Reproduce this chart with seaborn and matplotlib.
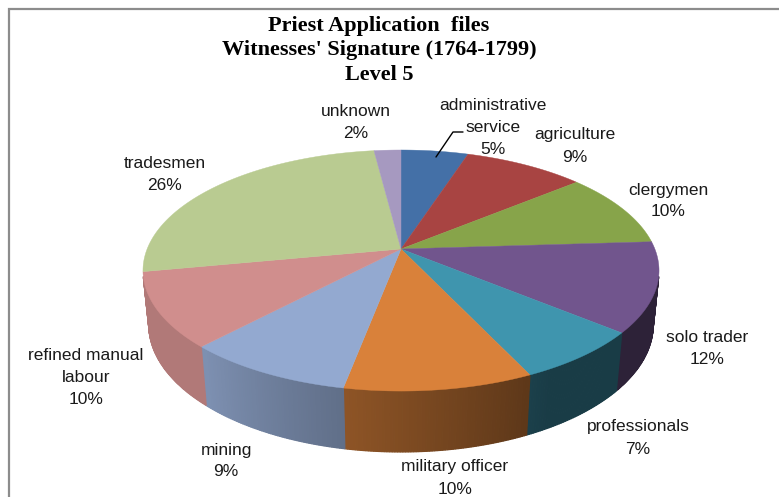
import numpy as np
import matplotlib.pyplot as plt
import seaborn as sns

# chart data
categories = ["administrative\nservice", "agriculture", "clergymen", "solo trader", "professionals",
              "military officer", "mining", "refined manual\nlabour", "tradesmen", "unknown"]
shares = [5, 9, 10, 12, 7, 10, 9, 10, 26, 2]
colors = ["#4470A7", "#A84442", "#87A44A", "#71558D", "#3F95AE",
          "#D9813A", "#93A9D0", "#D08E8D", "#B9CB91", "#A699C0"]
title = "Priest Application  files\nWitnesses' Signature (1764-1799)\nLevel 5"

# label placement (pixel coords, as laid out in the original)
label_xy = [(493, 127), (575, 146), (668, 201), (707, 348), (638, 438),
            (455, 478), (226, 461), (86, 377), (165, 174), (356, 122)]
LINE_H = 22

sns.set_theme(style="white")
label_font = ["Liberation Sans Narrow", "Liberation Sans", "DejaVu Sans"]
title_font = ["Liberation Serif", "DejaVu Serif"]

# perspective view of the disc
CX, CY = 401, 249
F, DIST, ELEV = 1262.5, 4.973, np.radians(27.36)
THICK = 0.242


def project(theta, y=0.0, r=1.0):
    x = r * np.sin(theta)
    z = r * np.cos(theta)
    depth = DIST + z * np.cos(ELEV) - y * np.sin(ELEV)
    sx = F * x / depth
    sy = F * (y * np.cos(ELEV) + z * np.sin(ELEV)) / depth
    return CX + sx, CY - sy


def shade(hex_color, k):
    rgb = np.array(sns.color_palette([hex_color])[0])
    return tuple(np.clip(rgb * k, 0, 1))


fig = plt.figure(figsize=(7.79, 4.97), dpi=100)
ax = fig.add_axes([0, 0, 1, 1])
ax.set_xlim(0, 779)
ax.set_ylim(497, 0)
ax.axis("off")

bounds = np.concatenate([[0], np.cumsum(shares)]) / sum(shares) * 2 * np.pi
vis_lo = np.arccos(-1 / (DIST * np.cos(ELEV)))
vis_hi = 2 * np.pi - vis_lo

# side walls (front half only), darker towards the right
for i, col in enumerate(colors):
    a0, a1 = max(bounds[i], vis_lo), min(bounds[i + 1], vis_hi)
    if a1 <= a0:
        continue
    ts = np.linspace(a0, a1, max(3, int(np.degrees(a1 - a0) * 2)))
    for t0, t1 in zip(ts[:-1], ts[1:]):
        mid = np.degrees((t0 + t1) / 2)
        k = 0.40 + 0.45 * np.clip((mid - 150) / 72, 0, 1)
        c = shade(col, k)
        tx0, ty0 = project(t0)
        tx1, ty1 = project(t1)
        bx1, by1 = project(t1, -THICK)
        bx0, by0 = project(t0, -THICK)
        ax.fill([tx0, tx1, bx1, bx0], [ty0, ty1, by1, by0], color=c, lw=0.9, ec=c)

# top faces
for i, col in enumerate(colors):
    ts = np.linspace(bounds[i], bounds[i + 1], 120)
    px, py = project(ts)
    ax.fill(np.concatenate([[CX], px]), np.concatenate([[CY], py]), color=col, lw=0.3, ec=col)

# data labels, one text per line so the lines sit 22px apart
for cat, val, (lx, ly) in zip(categories, shares, label_xy):
    lines = cat.split("\n") + [f"{val}%"]
    y0 = ly - (len(lines) - 1) / 2 * LINE_H
    for k, line in enumerate(lines):
        ax.text(lx, y0 + k * LINE_H, line, ha="center", va="center", fontsize=12.5,
                family=label_font, color="#1a1a1a")

# leader line for the first label
ax.plot([436, 453, 463], [157, 132, 132], color="black", lw=1)

ax.text(379, 50, title, ha="center", va="center", fontsize=16, fontweight="bold",
        family=title_font, color="black", linespacing=1.3)

# chart frame
ax.plot([9, 9, 779], [497, 9, 9], color="#8c8c8c", lw=1.6, solid_joinstyle="miter")

fig.savefig("out.png", dpi=100, facecolor="white")
